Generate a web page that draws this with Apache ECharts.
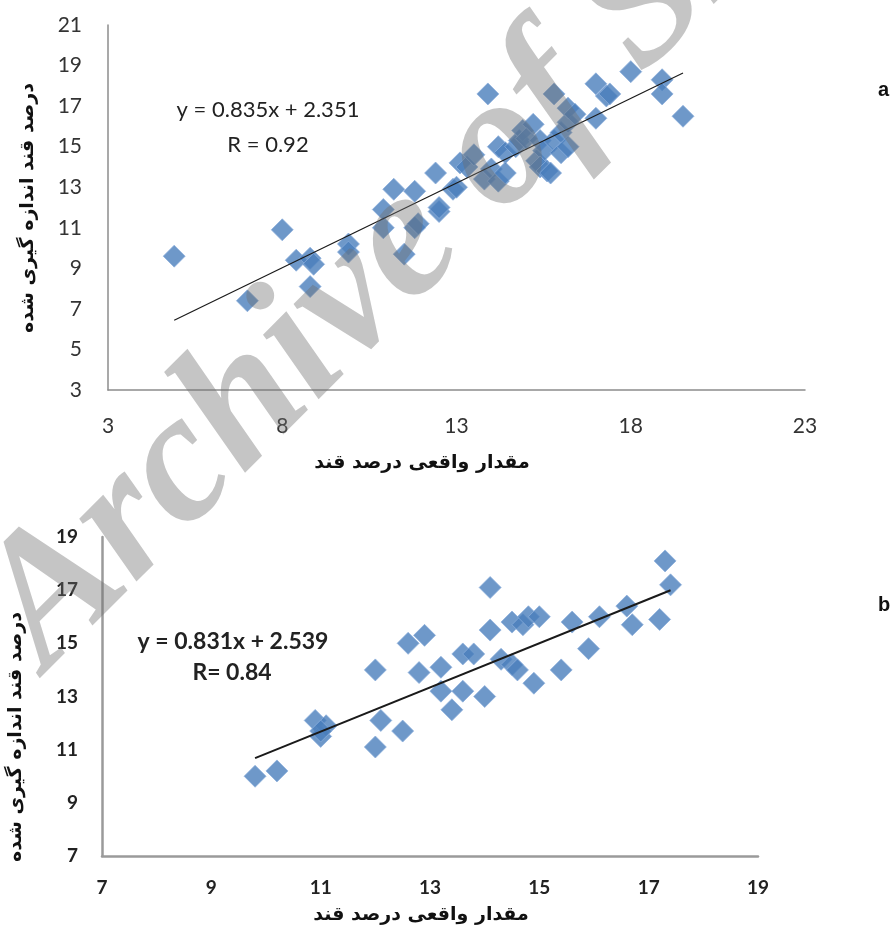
<!DOCTYPE html>
<html><head><meta charset="utf-8">
<script src="https://cdn.jsdelivr.net/npm/echarts@6/dist/echarts.min.js"></script>
<style>html,body{margin:0;padding:0;background:#fff}#c{width:892px;height:936px}</style>
</head><body><div id="c"></div>
<script>
// ---- Chart a (top) ----
const topActual   = [4.9, 7.0, 8.0, 8.4, 8.8, 8.9, 8.8, 9.9, 9.9, 10.9, 10.9, 11.2, 11.5, 11.8, 11.9, 11.8, 12.4, 12.5, 12.5, 12.9, 13.0, 13.1, 13.3, 13.5, 13.8, 13.9, 14.0, 14.2, 14.2, 14.4, 14.4, 14.7, 14.8, 14.9, 15.2, 15.0, 15.3, 15.4, 15.5, 15.4, 15.6, 15.7, 15.8, 15.8, 16.0, 16.0, 16.2, 16.2, 16.2, 16.4, 17.0, 17.0, 17.3, 17.4, 18.0, 18.9, 18.9, 19.5];
const topMeasured = [9.6, 7.4, 10.9, 9.4, 9.5, 9.2, 8.1, 10.2, 9.8, 11.0, 11.9, 12.9, 9.7, 11.0, 11.2, 12.8, 13.7, 11.8, 12.0, 12.9, 13.0, 14.2, 14.0, 14.6, 13.4, 17.6, 13.9, 13.3, 15.0, 14.7, 13.7, 15.0, 15.3, 15.8, 16.1, 15.4, 14.3, 15.3, 14.8, 14.0, 13.8, 13.7, 15.3, 17.6, 15.7, 14.7, 15.0, 16.2, 16.9, 16.6, 16.4, 18.1, 17.5, 17.6, 18.7, 18.3, 17.6, 16.5];
const topSlope = 0.835, topIntercept = 2.351;
const topEquation = 'y = 0.835x + 2.351';
const topRText = 'R = 0.92';
const topXTicks = [3, 8, 13, 18, 23];
const topYTicks = [3, 5, 7, 9, 11, 13, 15, 17, 19, 21];

// ---- Chart b (bottom) ----
const bottomActual   = [9.8, 10.2, 10.9, 11.0, 11.1, 11.0, 12.0, 12.1, 12.0, 12.5, 12.6, 12.9, 12.8, 13.2, 13.2, 13.6, 13.4, 13.6, 13.8, 14.0, 14.1, 14.1, 14.3, 14.5, 14.6, 14.5, 14.7, 14.8, 15.0, 14.9, 15.4, 15.6, 15.9, 16.1, 16.6, 16.7, 17.2, 17.3, 17.4];
const bottomMeasured = [10.0, 10.2, 12.1, 11.5, 11.9, 11.7, 14.0, 12.1, 11.1, 11.7, 15.0, 15.3, 13.9, 14.1, 13.2, 13.2, 12.5, 14.6, 14.6, 13.0, 17.1, 15.5, 14.4, 14.2, 14.0, 15.8, 15.7, 16.0, 16.0, 13.5, 14.0, 15.8, 14.8, 16.0, 16.4, 15.7, 15.9, 18.1, 17.2];
const bottomSlope = 0.831, bottomIntercept = 2.539;
const bottomEquation = 'y = 0.831x + 2.539';
const bottomRText = 'R= 0.84';
const bottomXTicks = [7, 9, 11, 13, 15, 17, 19];
const bottomYTicks = [7, 9, 11, 13, 15, 17, 19];

const xTitle = 'مقدار واقعی درصد قند';
const yTitle = 'درصد قند اندازه گیری شده';
const watermark = 'Archive of SID';

function pairs(xs, ys) { return xs.map((x, i) => [x, ys[i]]); }
function trend(xs, m, b) {
  const lo = Math.min(...xs), hi = Math.max(...xs);
  return [[lo, m * lo + b], [hi, m * hi + b]];
}
function step(t) { return t[1] - t[0]; }

const chart = echarts.init(document.getElementById('c'), null, {renderer: 'canvas'});
const axisLineTop = {show: true, lineStyle: {color: '#8c8c8c', width: 1.5}};
const axisLineBot = {show: true, lineStyle: {color: '#9a9a9a', width: 2.5}};
const lblTop = {color: '#333', fontSize: 21, fontFamily: 'Lato'};
const lblBot = {color: '#222', fontSize: 19, fontWeight: 'bold', fontFamily: 'Lato'};
const diamond = {color: '#4a7ebb', borderColor: 'rgba(140,175,220,0.9)', borderWidth: 1};

chart.setOption({
  animation: false,
  backgroundColor: '#fff',
  grid: [
    {left: 108, top: 25, width: 697, height: 365},
    {left: 102, top: 537, width: 656, height: 319}
  ],
  xAxis: [
    {gridIndex: 0, type: 'value', min: topXTicks[0], max: topXTicks[topXTicks.length - 1], interval: step(topXTicks),
     axisLine: axisLineTop, axisTick: {show: false}, splitLine: {show: false},
     axisLabel: Object.assign({margin: 26}, lblTop)},
    {gridIndex: 1, type: 'value', min: bottomXTicks[0], max: bottomXTicks[bottomXTicks.length - 1], interval: step(bottomXTicks),
     axisLine: axisLineBot, axisTick: {show: false}, splitLine: {show: false},
     axisLabel: Object.assign({margin: 22}, lblBot)}
  ],
  yAxis: [
    {gridIndex: 0, type: 'value', min: topYTicks[0], max: topYTicks[topYTicks.length - 1], interval: step(topYTicks),
     axisLine: axisLineTop, axisTick: {show: false}, splitLine: {show: false},
     axisLabel: Object.assign({margin: 26}, lblTop)},
    {gridIndex: 1, type: 'value', min: bottomYTicks[0], max: bottomYTicks[bottomYTicks.length - 1], interval: step(bottomYTicks),
     axisLine: axisLineBot, axisTick: {show: false}, splitLine: {show: false},
     axisLabel: Object.assign({margin: 24}, lblBot)}
  ],
  series: [
    {type: 'scatter', xAxisIndex: 0, yAxisIndex: 0, symbol: 'diamond', symbolSize: 22,
     itemStyle: diamond, data: pairs(topActual, topMeasured), z: 2},
    {type: 'line', xAxisIndex: 0, yAxisIndex: 0, symbol: 'none', silent: true,
     lineStyle: {color: '#1a1a1a', width: 1.2}, data: trend(topActual, topSlope, topIntercept), z: 3},
    {type: 'scatter', xAxisIndex: 1, yAxisIndex: 1, symbol: 'diamond', symbolSize: 22,
     itemStyle: diamond, data: pairs(bottomActual, bottomMeasured), z: 2},
    {type: 'line', xAxisIndex: 1, yAxisIndex: 1, symbol: 'none', silent: true,
     lineStyle: {color: '#1a1a1a', width: 2}, data: trend(bottomActual, bottomSlope, bottomIntercept), z: 3}
  ],
  graphic: [
    {type: 'text', x: 268, y: 110, style: {text: topEquation, font: '22px Lato', fill: '#222', align: 'center', verticalAlign: 'middle'}},
    {type: 'text', x: 268, y: 145, style: {text: topRText, font: '22px Lato', fill: '#222', align: 'center', verticalAlign: 'middle'}},
    {type: 'text', x: 233, y: 642, style: {text: bottomEquation, font: 'bold 23px Lato', fill: '#222', align: 'center', verticalAlign: 'middle'}},
    {type: 'text', x: 232, y: 673, style: {text: bottomRText, font: 'bold 23px Lato', fill: '#222', align: 'center', verticalAlign: 'middle'}},
    {type: 'text', x: 422, y: 463, style: {text: xTitle, font: 'bold 19px "DejaVu Sans"', fill: '#111', align: 'center', verticalAlign: 'middle'}},
    {type: 'text', x: 28, y: 208, rotation: Math.PI / 2, style: {text: yTitle, font: 'bold 19px "DejaVu Sans"', fill: '#111', align: 'center', verticalAlign: 'middle'}},
    {type: 'text', x: 421, y: 915, style: {text: xTitle, font: 'bold 19px "DejaVu Sans"', fill: '#111', align: 'center', verticalAlign: 'middle'}},
    {type: 'text', x: 16, y: 737, rotation: Math.PI / 2, style: {text: yTitle, font: 'bold 19px "DejaVu Sans"', fill: '#111', align: 'center', verticalAlign: 'middle'}},
    {type: 'text', x: 878, y: 90, style: {text: 'a', font: 'bold 20px "Liberation Sans"', fill: '#111', align: 'left', verticalAlign: 'middle'}},
    {type: 'text', x: 878, y: 605, style: {text: 'b', font: 'bold 20px "Liberation Sans"', fill: '#111', align: 'left', verticalAlign: 'middle'}},
    {type: 'text', x: 78, y: 703, rotation: 45 * Math.PI / 180, z: 100, silent: true,
     style: {text: watermark, font: 'italic bold 185px "Liberation Serif"', fill: 'rgba(110,110,110,0.4)', align: 'left', verticalAlign: 'bottom'}}
  ]
});
</script>
</body></html>
